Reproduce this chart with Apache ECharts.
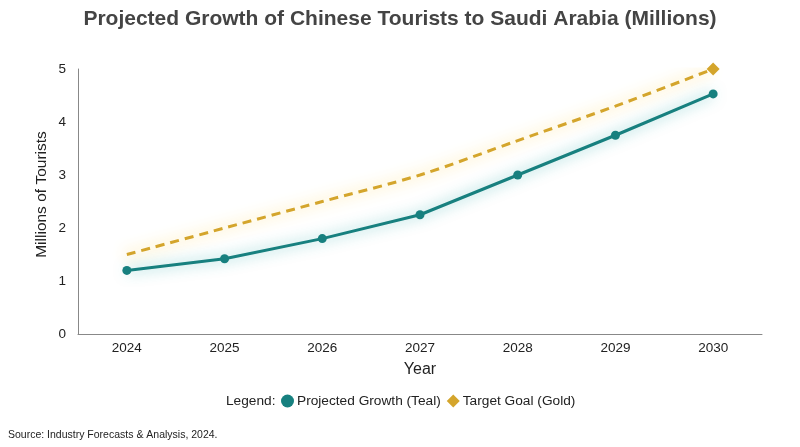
<!DOCTYPE html>
<html>
<head>
<meta charset="utf-8">
<script src="https://cdn.jsdelivr.net/npm/echarts@6/dist/echarts.min.js"></script>
<style>
html,body{margin:0;padding:0;background:#fff;}
#chart{width:800px;height:447px;}
</style>
</head>
<body>
<div id="chart"></div>
<script>
const years = ['2024','2025','2026','2027','2028','2029','2030'];
const projectedGrowth = [1.2, 1.42, 1.8, 2.25, 3.0, 3.75, 4.53];
const targetGoal = [1.5, 2.0, 2.5, 3.0, 3.65, 4.3, 5.0];
const yTicks = [0, 1, 2, 3, 4, 5];

const TEAL = '#17807f';
const GOLD = '#d4a52c';
const FONT = 'Liberation Sans, Arial, sans-serif';

const chart = echarts.init(document.getElementById('chart'));
chart.setOption({
  animation: false,
  title: {
    text: 'Projected Growth of Chinese Tourists to Saudi Arabia (Millions)',
    left: 'center', top: 4,
    textStyle: { fontFamily: FONT, fontSize: 21, fontWeight: 'bold', color: '#444' }
  },
  grid: { left: 78, right: 38, top: 69, bottom: 113 },
  legend: {
    left: 281, top: 394, padding: 0,
    itemWidth: 13, itemHeight: 13, itemGap: 6,
    textStyle: { fontFamily: FONT, fontSize: 13.7, color: '#222', padding: [0, 0, 0, -2] },
    data: [
      { name: 'Projected Growth (Teal)', icon: 'circle' },
      { name: 'Target Goal (Gold)', icon: 'diamond' }
    ]
  },
  graphic: [
    { type: 'text', left: 226, top: 394,
      style: { text: 'Legend:', fontFamily: FONT, fontSize: 13.7, fill: '#222' } },
    { type: 'text', left: 8, top: 430,
      style: { text: 'Source: Industry Forecasts & Analysis, 2024.', fontFamily: FONT, fontSize: 10.5, fill: '#222' } }
  ],
  xAxis: {
    type: 'category', data: years, boundaryGap: true,
    name: 'Year', nameLocation: 'middle', nameGap: 28,
    nameTextStyle: { fontFamily: FONT, fontSize: 16, color: '#222' },
    axisLine: { lineStyle: { color: '#888', width: 1 } },
    axisTick: { show: false },
    axisLabel: { fontFamily: FONT, fontSize: 13.5, color: '#222', margin: 7 }
  },
  yAxis: {
    type: 'value', min: yTicks[0], max: yTicks[yTicks.length - 1], interval: 1,
    name: 'Millions of Tourists', nameLocation: 'middle', nameGap: 28,
    nameMoveOverlap: false,
    nameTextStyle: { fontFamily: FONT, fontSize: 15.5, color: '#222', padding: [0, 0, 0, 14] },
    axisLine: { show: true, lineStyle: { color: '#888', width: 1 } },
    axisTick: { show: false },
    splitLine: { show: false },
    axisLabel: { fontFamily: FONT, fontSize: 13.5, color: '#222', margin: 12 }
  },
  series: [
    {
      name: 'Target Goal (Gold)', type: 'line', smooth: 0.3,
      z: 2,
      data: targetGoal.map((v, i) => ({
        value: v,
        symbol: i === targetGoal.length - 1 ? 'diamond' : 'none',
        symbolSize: 13
      })),
      itemStyle: { color: GOLD },
      lineStyle: { color: GOLD, width: 3, type: [9, 6],
        shadowBlur: 14, shadowColor: 'rgba(255,205,50,0.85)' }
    },
    {
      name: 'Projected Growth (Teal)', type: 'line', smooth: false,
      z: 3,
      data: projectedGrowth,
      symbol: 'circle', symbolSize: 9,
      itemStyle: { color: TEAL },
      lineStyle: { color: TEAL, width: 3,
        shadowBlur: 14, shadowColor: 'rgba(40,170,170,0.7)' }
    }
  ]
});
</script>
</body>
</html>
